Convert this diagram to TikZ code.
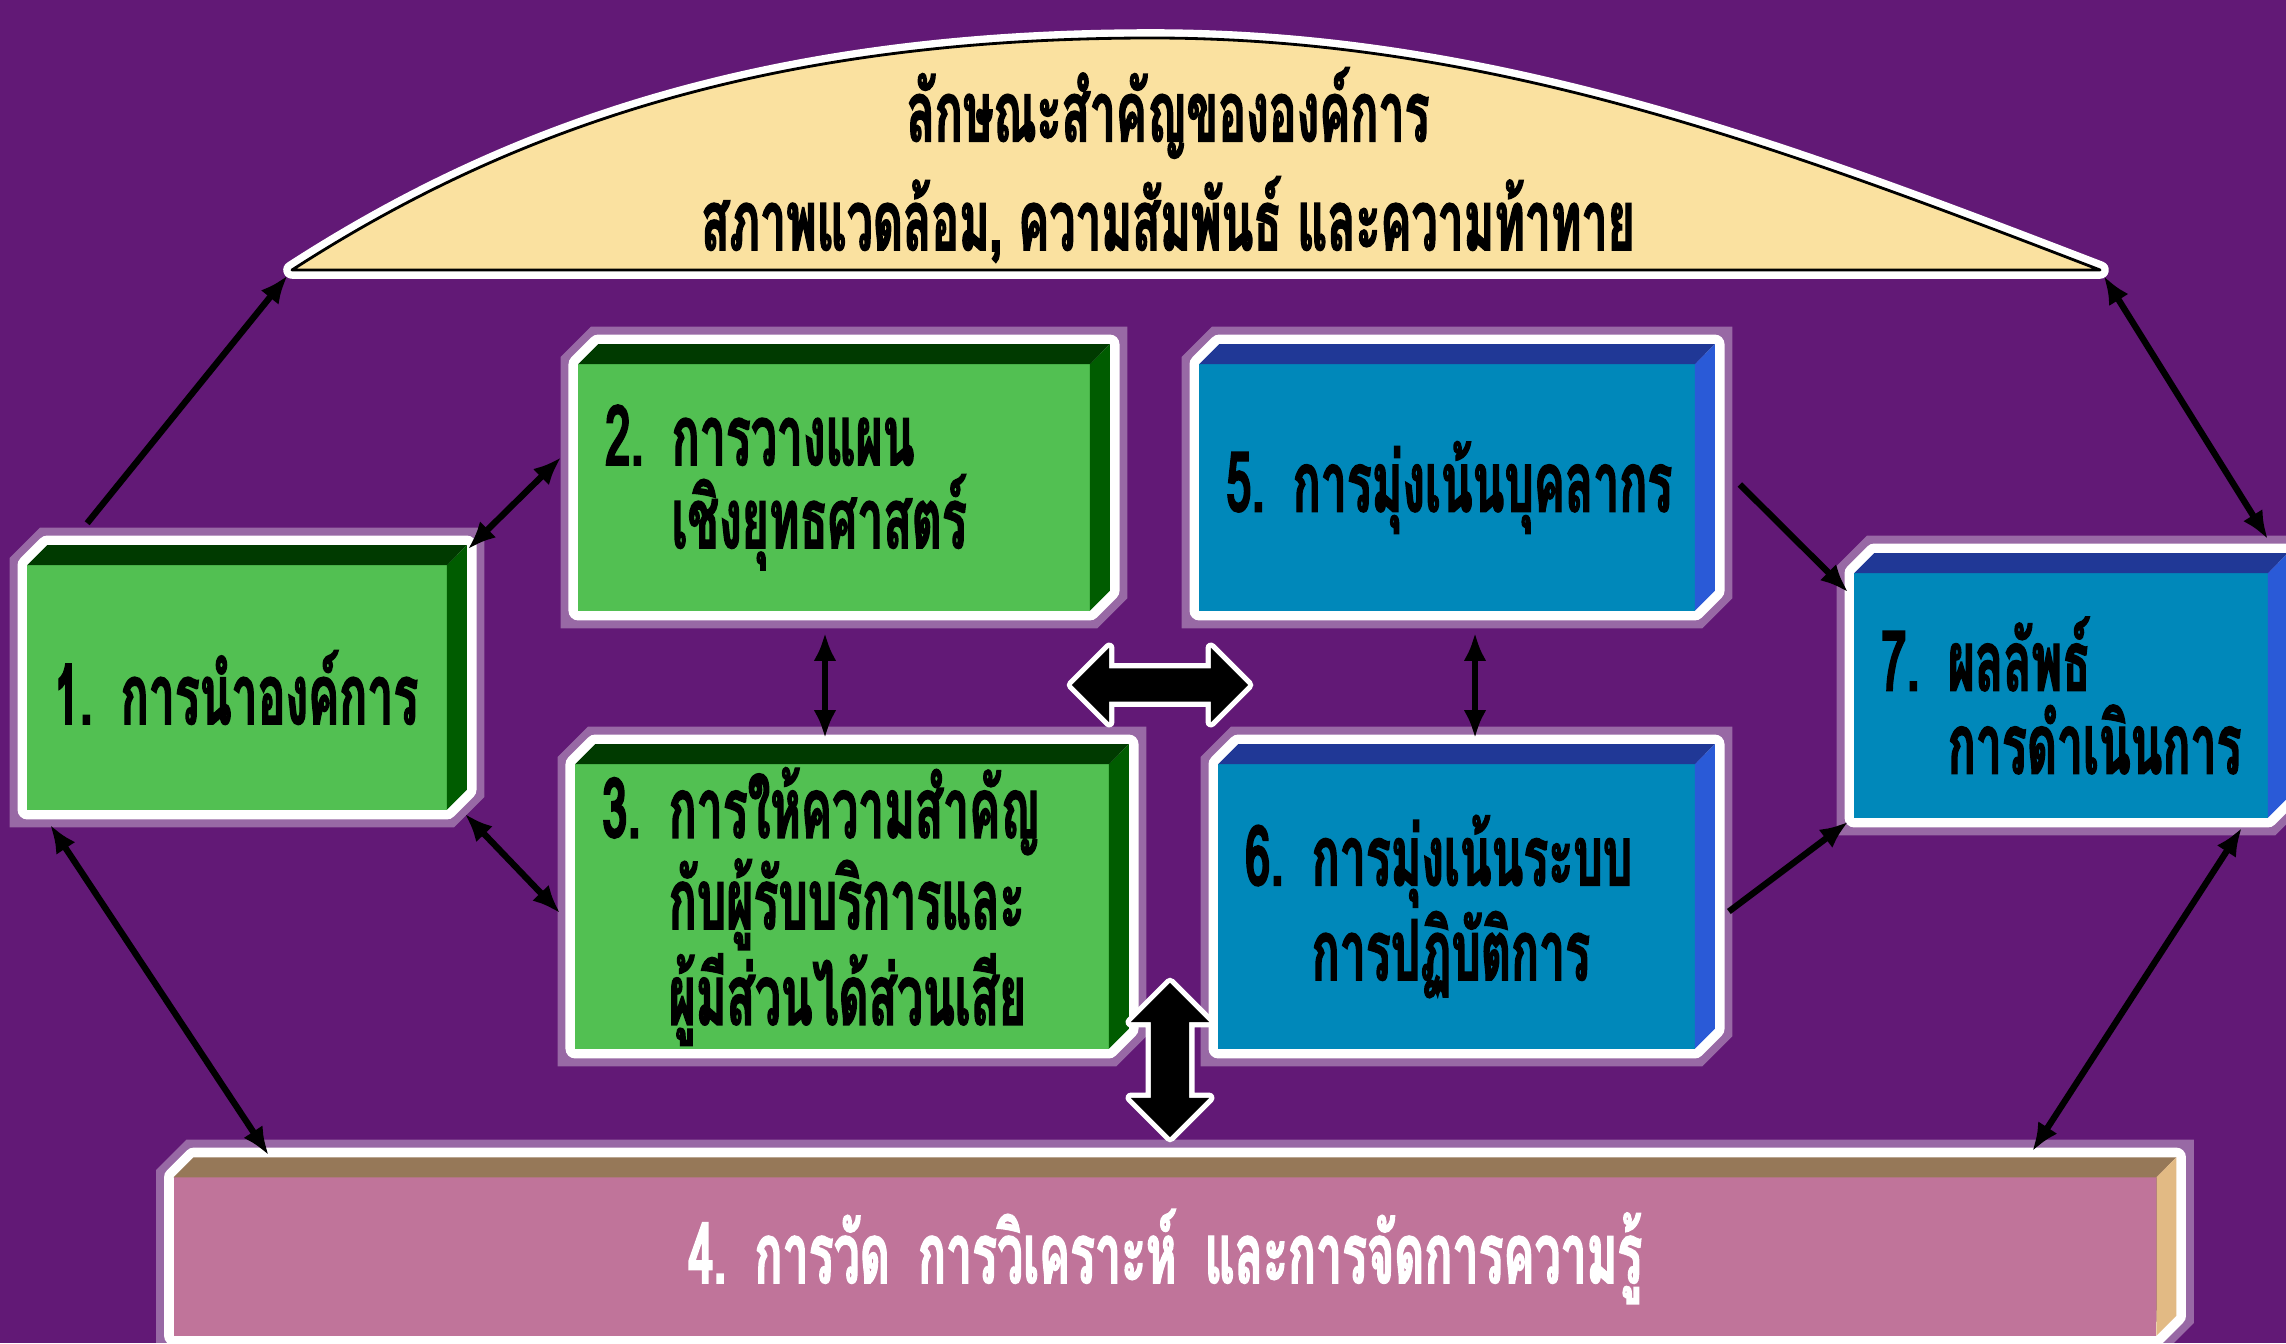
\documentclass[tikz,border=0pt]{standalone}
\usepackage{fontspec}
\newfontfamily\thaifont[Script=Thai,FakeStretch=0.55,BoldFeatures={FakeBold=1.5}]{Loma}
\usetikzlibrary{arrows.meta,shapes.arrows,calc}

\definecolor{bgpurple}{RGB}{98,25,118}
\definecolor{grfront}{RGB}{82,192,82}
\definecolor{grtop}{RGB}{0,58,0}
\definecolor{grside}{RGB}{0,92,0}
\definecolor{blfront}{RGB}{0,136,186}
\definecolor{bltop}{RGB}{32,56,150}
\definecolor{blside}{RGB}{42,90,215}
\definecolor{pkfront}{RGB}{192,116,154}
\definecolor{pktop}{RGB}{150,120,88}
\definecolor{pkside}{RGB}{226,186,132}
\definecolor{archfill}{RGB}{250,225,160}

\pgfdeclarelayer{back}
\pgfdeclarelayer{faces}
\pgfsetlayers{back,faces,main}

\begin{document}
\begin{tikzpicture}[x=0.01cm,y=-0.01cm,
    >={Latex[length=8pt,width=6.5pt]},
    thai/.style={font=\thaifont\bfseries\fontsize{24}{23.6}\selectfont},
    halo/.style={draw=white,line width=5.5pt,line join=round,
      preaction={draw=white,opacity=0.35,line width=10pt}},
    cube/.style={thai,inner xsep=0.26cm,inner ysep=0pt,align=left},
    link/.style={draw=black,line width=1.8pt},
    bigarrow/.style={double arrow,fill=black,inner xsep=0pt,
      preaction={draw=white,line width=3pt,line join=round}}]
  \useasboundingbox (0,0) rectangle (2286,1343);
  \begin{pgfonlayer}{back}
    \fill[bgpurple] (0,0) rectangle (2286,1343);
  \end{pgfonlayer}

  % top arch
  \coordinate (archL) at (292,270);
  \coordinate (archR) at (2100,270);
  \filldraw[fill=archfill,draw=black,line width=0.8pt,line join=round,
      preaction={draw=white,line width=5pt,line join=round}]
    (archL) .. controls (507,131) and (765,38) .. (1152,38)
    cos (archR) -- cycle;
  \node[thai,align=center] (arch) at (1168,165)
    {ลักษณะสำคัญขององค์การ\\[4pt]สภาพแวดล้อม, ความสัมพันธ์ และความท้าทาย};

  % boxes
  \node[cube,text width=3.66cm,minimum height=2.43cm] (b1) at (237,687.5)
    {1.~การนำองค์การ};
  \node[cube,text width=4.58cm,minimum height=2.45cm] (b2) at (834,487.5)
    {2.~การวางแผน\\\phantom{2.~}เชิงยุทธศาสตร์};
  \node[cube,text width=4.80cm,minimum height=2.83cm] (b3) at (842,906.5)
    {3.~การให้ความสำคัญ\\\phantom{3.~}กับผู้รับบริการและ\\\phantom{3.~}ผู้มีส่วนได้ส่วนเสีย};
  \node[cube,text width=4.42cm,minimum height=2.45cm] (b5) at (1447,487.5)
    {5.~การมุ่งเน้นบุคลากร};
  \node[cube,text width=4.23cm,minimum height=2.83cm] (b6) at (1456.5,906.5)
    {6.~การมุ่งเน้นระบบ\\\phantom{6.~}การปฏิบัติการ};
  \node[cube,text width=3.60cm,minimum height=2.43cm] (b7) at (2061,695.5)
    {7.~ผลลัพธ์\\\phantom{7.~}การดำเนินการ};
  \node[cube,align=center,text=white,text width=19.28cm,minimum height=1.57cm] (b4) at (1165,1256.5)
    {4.~การวัด การวิเคราะห์ และการจัดการความรู้};

  \begin{pgfonlayer}{faces}
    \foreach \n/\f/\t/\s in {b1/grfront/grtop/grside,b2/grfront/grtop/grside,
        b3/grfront/grtop/grside,b5/blfront/bltop/blside,b6/blfront/bltop/blside,
        b7/blfront/bltop/blside,b4/pkfront/pktop/pkside}{
      \draw[halo] (\n.south west) -- (\n.north west) -- ++(20,-20)
        -- ($(\n.north east)+(20,-20)$) -- ($(\n.south east)+(20,-20)$)
        -- (\n.south east) -- cycle;
      \fill[\f] (\n.south west) rectangle (\n.north east);
      \fill[\t] (\n.north west) -- ++(20,-20) -- ($(\n.north east)+(20,-20)$)
        -- (\n.north east) -- cycle;
      \fill[\s] (\n.north east) -- ++(20,-20) -- ($(\n.south east)+(20,-20)$)
        -- (\n.south east) -- cycle;
    }
  \end{pgfonlayer}

  % block arrows
  \node[bigarrow,minimum height=1.76cm,inner ysep=0.16cm,
    double arrow head extend=0.205cm] (harr) at (1160,685) {};
  \node[bigarrow,rotate=90,minimum height=1.54cm,inner ysep=0.185cm,
    double arrow head extend=0.2cm] (varr) at (1170,1060) {};

  % connectors
  \draw[link,->,shorten >=2pt] ($(b1.north west)+(60,-42)$) -- (archL);
  \draw[link,<->,shorten <=2pt] (archR) -- ($(b7.north east)+(0,-34)$);
  \draw[link,<->] ($(b1.north east)+(21,-16)$) -- ($(b2.north west)+(-17,93)$);
  \draw[link,<->] ($(b1.south east)+(18,4)$) -- ($(b3.north west)+(-15,149)$);
  \draw[link,<->] ($(b1.south west)+(23,15)$) -- ($(b4.north west)+(95,-22)$);
  \draw[link,<->] ($(b2.south)+(-9,22)$) -- ($(b3.north)+(-17,-26)$);
  \draw[link,<->] ($(b5.south)+(28,22)$) -- ($(b6.north)+(18.5,-26)$);
  \draw[link,->] ($(b5.east)+(45,-3)$) -- ($(b7.north west)+(-6,19)$);
  \draw[link,->] ($(b6.east)+(34,5)$) -- ($(b7.south west)+(-6,4)$);
  \draw[link,<->] ($(b7.south east)+(-26,10)$) -- ($(b4.north east)+(-124,-26)$);
\end{tikzpicture}
\end{document}
